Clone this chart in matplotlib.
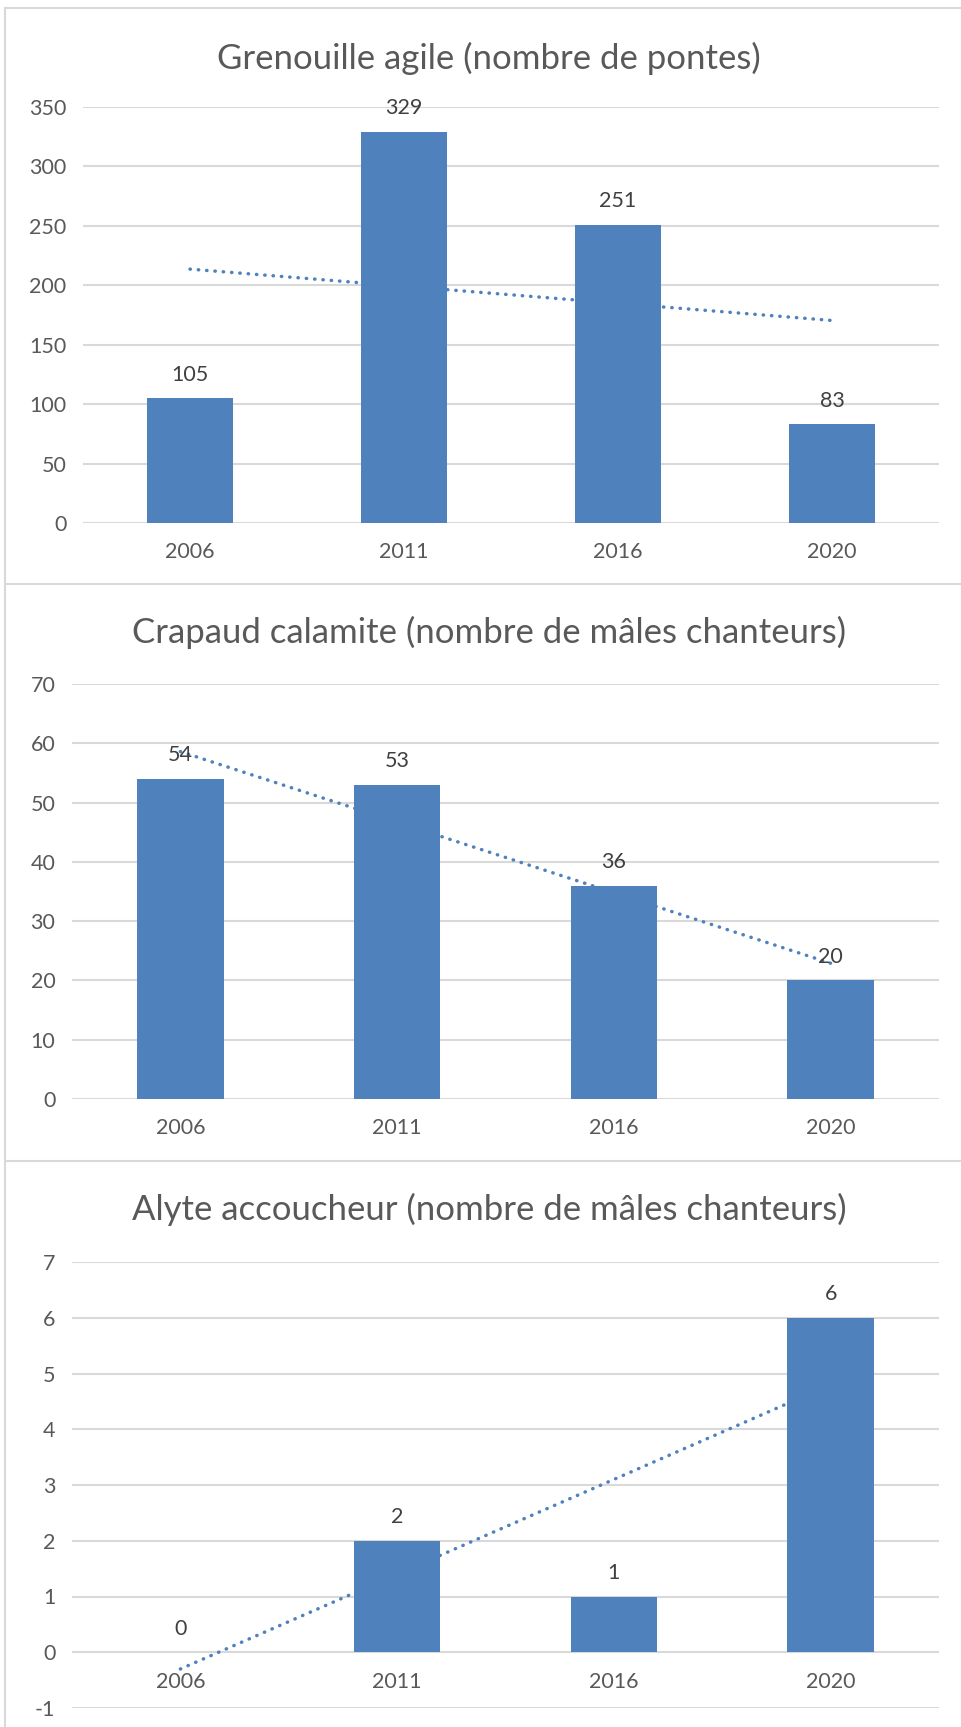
import numpy as np
import matplotlib

matplotlib.use("Agg")
import matplotlib.pyplot as plt
from matplotlib.lines import Line2D

years = ["2006", "2011", "2016", "2020"]

grenouille_titre = "Grenouille agile (nombre de pontes)"
grenouille_vals = [105, 329, 251, 83]
grenouille_ticks = [0, 50, 100, 150, 200, 250, 300, 350]

crapaud_titre = "Crapaud calamite (nombre de mâles chanteurs)"
crapaud_vals = [54, 53, 36, 20]
crapaud_ticks = [0, 10, 20, 30, 40, 50, 60, 70]

alyte_titre = "Alyte accoucheur (nombre de mâles chanteurs)"
alyte_vals = [0, 2, 1, 6]
alyte_ticks = [-1, 0, 1, 2, 3, 4, 5, 6, 7]

W, H = 962, 1727
BAR = "#4f81bd"
GRID = "#d9d9d9"
TXT = "#595959"
FONT = "Lato"

plt.rcParams["font.family"] = [FONT, "DejaVu Sans"]
plt.rcParams["axes.unicode_minus"] = False

fig = plt.figure(figsize=(W / 100, H / 100), dpi=100)


def px_axes(left, top, right, bottom):
    return fig.add_axes([left / W, 1 - bottom / H, (right - left) / W, (bottom - top) / H])


def panel(box, title, title_y, values, ticks):
    ax = px_axes(*box)
    x = np.arange(len(years))
    ax.bar(x, values, width=0.4, color=BAR, zorder=3)

    # linear trend line, drawn behind the bars like Excel does
    slope, icpt = np.polyfit(x, values, 1)
    ax.plot(x, slope * x + icpt, color=BAR, linewidth=2.5,
            linestyle=(0, (0.1, 2.3)), dash_capstyle="round", zorder=2)

    for xi, v in zip(x, values):
        ax.annotate(str(v), (xi, v), xytext=(0, 17), textcoords="offset points",
                    ha="center", va="center", fontsize=15.5, color="#404040", zorder=5)

    ax.set_xlim(-0.5, len(years) - 0.5)
    ax.set_ylim(ticks[0], ticks[-1])
    ax.set_yticks(ticks)
    ax.set_xticks(x)
    ax.set_xticklabels(years)
    ax.yaxis.grid(True, color=GRID, linewidth=1.5, zorder=0)
    ax.set_axisbelow(True)
    for s in ax.spines.values():
        s.set_visible(False)
    if ticks[0] < 0:
        ax.spines["bottom"].set_position(("data", 0))
    ax.tick_params(length=0, labelsize=15.5, colors=TXT)
    ax.tick_params(axis="y", pad=12)
    ax.tick_params(axis="x", pad=14)
    fig.text(489 / W, 1 - title_y / H, title, ha="center", va="center",
             fontsize=25, color=TXT)
    return ax


panel((83, 107, 939, 523), grenouille_titre, 58, grenouille_vals, grenouille_ticks)
panel((72, 684, 939, 1099), crapaud_titre, 632, crapaud_vals, crapaud_ticks)
panel((72, 1262, 939, 1708), alyte_titre, 1209, alyte_vals, alyte_ticks)

# chart frames
for xs, ys in [((5, W), (8, 8)), ((5, 5), (8, H)), ((5, W), (584, 584)), ((5, W), (1161, 1161))]:
    fig.add_artist(Line2D([v / W for v in xs], [1 - v / H for v in ys],
                          color=GRID, linewidth=1.5, transform=fig.transFigure))

fig.savefig("out.png", dpi=100)
